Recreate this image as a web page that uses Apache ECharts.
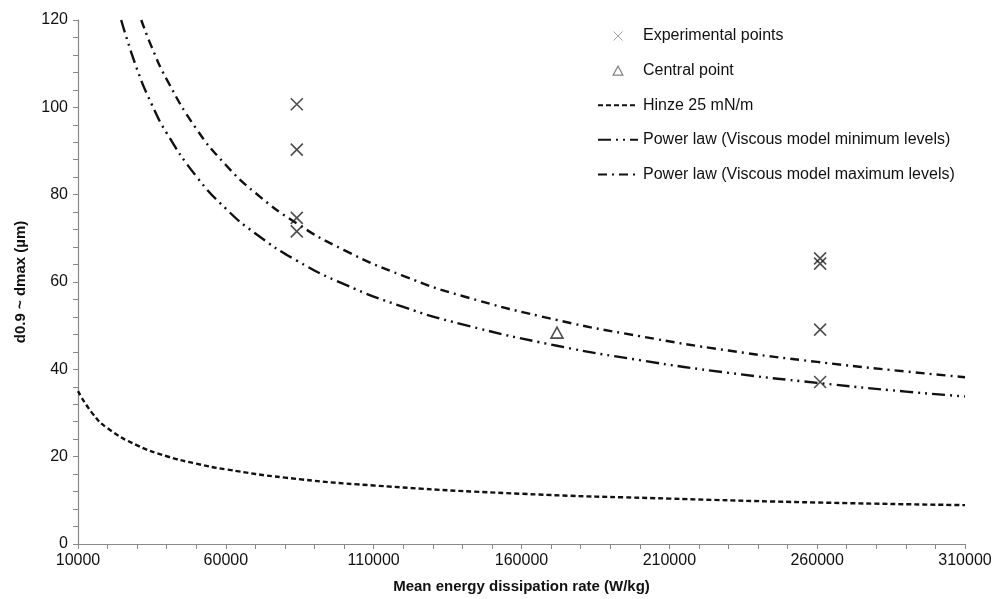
<!DOCTYPE html>
<html>
<head>
<meta charset="utf-8">
<script src="https://cdn.jsdelivr.net/npm/echarts@6/dist/echarts.min.js"></script>
<style>
html, body { margin: 0; padding: 0; background: #fff; }
#main { width: 996px; height: 599px; }
</style>
</head>
<body>
<div id="main"></div>
<script>
// experimental points (x = W/kg, y = um)
var expX = [84000, 84000, 84000, 84000, 261000, 261000, 261000, 261000];
var expY = [100.7, 90.3, 74.7, 71.6, 65.4, 64.2, 49.1, 37.1];
// central point
var centralX = [172000];
var centralY = [48.4];
// Hinze 25 mN/m curve
var hinzeX = [10000, 15000, 20000, 30000, 40000, 50000, 60000, 80000, 110000, 160000, 210000, 260000, 310000];
var hinzeY = [35.0, 29.8, 26.5, 22.6, 20.1, 18.4, 17.1, 15.2, 13.4, 11.5, 10.4, 9.5, 8.9];
// power law, viscous model minimum levels
var minX = [24600, 30000, 35000, 40000, 50000, 60000, 70000, 84000, 100000, 120000, 140000, 172000, 200000, 230000, 260000, 290000, 310000];
var minY = [120.0, 108.7, 100.6, 94.1, 84.2, 76.8, 71.1, 64.9, 59.5, 54.3, 50.3, 45.4, 42.1, 39.2, 36.9, 34.9, 33.8];
// power law, viscous model maximum levels
var maxX = [31400, 35000, 40000, 50000, 60000, 70000, 84000, 100000, 120000, 140000, 172000, 200000, 230000, 260000, 290000, 310000];
var maxY = [120.0, 113.7, 106.4, 95.1, 86.8, 80.4, 73.4, 67.3, 61.4, 56.8, 51.3, 47.6, 44.3, 41.7, 39.5, 38.2];
// axis ticks
var xLabels = [10000, 60000, 110000, 160000, 210000, 260000, 310000];
var xTicks = [10000, 20000, 30000, 40000, 50000, 60000, 70000, 80000, 90000, 100000, 110000, 120000, 130000, 140000, 150000, 160000, 170000, 180000, 190000, 200000, 210000, 220000, 230000, 240000, 250000, 260000, 270000, 280000, 290000, 300000, 310000];

function pairs(xs, ys) {
  return xs.map(function (x, i) { return [x, ys[i]]; });
}

var font = "'Liberation Sans', Arial, sans-serif";
var crossPath = 'path://M0,0L12,12M12,0L0,12';
var trianglePath = 'path://M6,0L12,11L0,11Z';

var myChart = echarts.init(document.getElementById('main'));
myChart.setOption({
  backgroundColor: '#fff',
  animation: false,
  textStyle: { fontFamily: font },
  grid: { left: 78, right: 31, top: 20, bottom: 54 },
  legend: {
    orient: 'vertical',
    left: 592,
    top: 23,
    itemWidth: 40,
    itemHeight: 9,
    itemGap: 18.6,
    textStyle: { fontSize: 16, color: '#111', fontFamily: font },
    data: [
      { name: 'Experimental points', itemStyle: { color: 'transparent', borderColor: '#888', borderWidth: 1 } },
      { name: 'Central point', itemStyle: { color: 'transparent', borderColor: '#666', borderWidth: 1.2 } },
      { name: 'Hinze 25 mN/m', itemStyle: { opacity: 0 } },
      { name: 'Power law (Viscous model minimum levels)', itemStyle: { opacity: 0 } },
      { name: 'Power law (Viscous model maximum levels)', itemStyle: { opacity: 0 } }
    ]
  },
  xAxis: {
    type: 'value',
    min: 10000,
    max: 310000,
    name: 'Mean energy dissipation rate (W/kg)',
    nameLocation: 'middle',
    nameGap: 35,
    nameTextStyle: { fontSize: 15, fontWeight: 'bold', color: '#111', fontFamily: font },
    splitLine: { show: false },
    axisLine: { lineStyle: { color: '#888', width: 1.2 } },
    axisTick: { show: true, length: 5, customValues: xTicks, lineStyle: { color: '#888' } },
    axisLabel: {
      customValues: xLabels, fontSize: 16, color: '#111', margin: 9, fontFamily: font,
      formatter: function (v) { return String(v); }
    }
  },
  yAxis: {
    type: 'value',
    min: 0,
    max: 120,
    interval: 20,
    name: 'd0.9 ~ dmax (µm)',
    nameLocation: 'middle',
    nameGap: 50,
    nameTextStyle: { fontSize: 15, fontWeight: 'bold', color: '#111', fontFamily: font },
    splitLine: { show: false },
    axisLine: { show: true, lineStyle: { color: '#888', width: 1.2 } },
    axisTick: { show: true, length: 5, lineStyle: { color: '#888' } },
    minorTick: { show: true, splitNumber: 5, length: 5, lineStyle: { color: '#888' } },
    axisLabel: { fontSize: 16, color: '#111', margin: 10, fontFamily: font }
  },
  series: [
    {
      name: 'Experimental points',
      type: 'scatter',
      symbol: crossPath,
      symbolSize: 12,
      symbolKeepAspect: true,
      itemStyle: { color: 'transparent', borderColor: '#222', borderWidth: 1.6 },
      data: pairs(expX, expY),
      z: 5
    },
    {
      name: 'Central point',
      type: 'scatter',
      symbol: trianglePath,
      symbolSize: 12,
      symbolKeepAspect: true,
      itemStyle: { color: 'transparent', borderColor: '#222', borderWidth: 1.6 },
      data: pairs(centralX, centralY),
      z: 5
    },
    {
      name: 'Hinze 25 mN/m',
      type: 'line',
      smooth: true,
      symbol: 'none',
      lineStyle: { color: '#111', width: 2.4, type: [5, 3] },
      data: pairs(hinzeX, hinzeY)
    },
    {
      name: 'Power law (Viscous model minimum levels)',
      type: 'line',
      smooth: true,
      symbol: 'none',
      lineStyle: { color: '#111', width: 2.4, type: [13, 5, 2, 5, 2, 5] },
      data: pairs(minX, minY)
    },
    {
      name: 'Power law (Viscous model maximum levels)',
      type: 'line',
      smooth: true,
      symbol: 'none',
      lineStyle: { color: '#111', width: 2.4, type: [9, 5, 2, 5] },
      data: pairs(maxX, maxY)
    }
  ]
});
</script>
</body>
</html>
